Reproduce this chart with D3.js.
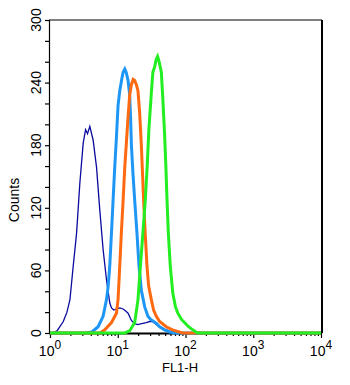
<!DOCTYPE html>
<html>
<head>
<meta charset="utf-8">
<script src="https://cdn.jsdelivr.net/npm/d3@7/dist/d3.min.js"></script>
<style>
  html, body { margin: 0; padding: 0; background: #fff; }
  svg { display: block; font-family: "Liberation Sans", Arial, Helvetica, sans-serif; }
</style>
</head>
<body>
<svg id="chart" width="350" height="385"></svg>
<script>
// FL1-H histogram overlay: isotype control plus three stained samples.
const xTickValues = [1, 10, 100, 1000, 10000];
const xTickExponents = ["0", "1", "2", "3", "4"];
const yTickValues = [0, 60, 120, 180, 240, 300];

// Isotype control (dark blue)
const isoFl = [1.00, 1.07, 1.27, 1.57, 1.78, 1.97, 2.20, 2.47, 2.76, 3.09, 3.35, 3.58, 3.87, 4.33, 4.86, 5.43, 6.08, 6.82, 7.62, 8.08, 8.73, 9.57, 10.7, 12.0, 13.1, 14.2, 15.9, 17.8, 19.7, 22.5, 26.4, 29.5, 32.7, 37.5, 41.5, 52, 62, 81, 10000];
const isoCounts = [0, 0, 2, 11, 20, 32, 64, 96, 144, 182, 195, 191, 198, 185, 159, 118, 80, 51, 29, 24, 22, 23, 24, 23, 21, 19, 12, 9, 8, 9, 10, 11, 11, 8, 6, 3, 1, 0, 0];

// Sample A (light blue)
const sampleAFl = [1, 3.27, 4.15, 5.13, 6.08, 6.82, 7.20, 7.62, 8.08, 8.53, 9.03, 9.57, 10.1, 10.7, 11.5, 12.0, 12.7, 13.3, 14.2, 15.0, 15.5, 15.9, 16.8, 17.8, 19.2, 20.6, 22.3, 25.0, 27.9, 30.6, 33.8, 37.5, 41.5, 49.1, 58.2, 68.9, 10000];
const sampleACounts = [0, 0, 1, 6, 16, 32, 44, 64, 96, 127, 159, 188, 218, 232, 244, 250, 253, 250, 242, 228, 205, 180, 152, 127, 96, 64, 41, 25, 16, 13, 11, 9, 6, 3, 1, 0, 0];

// Sample B (orange)
const sampleBFl = [1, 5.43, 6.44, 8.08, 9.57, 10.1, 10.7, 11.3, 12.0, 12.7, 13.4, 14.2, 15.0, 15.9, 16.9, 17.8, 18.8, 19.9, 21.1, 22.3, 23.3, 24.1, 25.4, 27.0, 28.6, 31.3, 33.8, 37.1, 41.5, 52.0, 64.4, 90.3, 10000];
const sampleBCounts = [0, 0, 3, 10, 19, 32, 64, 96, 127, 159, 182, 207, 228, 238, 243, 242, 238, 232, 210, 180, 150, 127, 96, 64, 45, 32, 22, 16, 11, 6, 3, 0, 0];

// Sample C (green)
const sampleCFl = [1, 12.7, 15.0, 17.8, 19.9, 21.6, 23.5, 25.5, 27.3, 28.8, 31.3, 33.0, 35.0, 36.8, 38.7, 40.8, 44.0, 46.4, 49.1, 51.3, 53.4, 55.8, 59.6, 65.0, 71.2, 77.1, 87.3, 96.6, 111, 128, 150, 10000];
const sampleCCounts = [0, 0, 2, 10, 32, 64, 96, 127, 162, 195, 230, 250, 255, 262, 265, 260, 250, 223, 191, 160, 127, 96, 64, 38, 25, 19, 13, 10, 6, 3, 0, 0];

const series = [
  { fl: isoFl, counts: isoCounts, color: "#0a0a9e", width: 1.3 },
  { fl: sampleAFl, counts: sampleACounts, color: "#1e96f5", width: 3 },
  { fl: sampleBFl, counts: sampleBCounts, color: "#ff6a10", width: 3 },
  { fl: sampleCFl, counts: sampleCCounts, color: "#22ee22", width: 3 }
];

const plotLeft = 49, plotRight = 322, plotTop = 20, plotBottom = 333;
const svg = d3.select("#chart");

const x = d3.scaleLog().domain([1, 10000]).range([50, 321]);
const y = d3.scaleLinear().domain([0, 300]).range([plotBottom, plotTop]);

// frame
svg.append("line").attr("x1", plotLeft).attr("x2", plotRight).attr("y1", plotTop).attr("y2", plotTop)
  .attr("stroke", "#000").attr("stroke-width", 1.2);
svg.append("line").attr("x1", plotRight).attr("x2", plotRight).attr("y1", plotTop).attr("y2", plotBottom)
  .attr("stroke", "#000").attr("stroke-width", 2);

// y axis with minor ticks every 20 counts
const yAxis = d3.axisLeft(y).tickValues(d3.range(0, 301, 20)).tickSize(4).tickFormat(() => "");
const gy = svg.append("g").attr("transform", `translate(${plotLeft},0)`).call(yAxis);
gy.select(".domain").attr("stroke-width", 1.2);
gy.selectAll(".tick line").attr("stroke-width", 1.2);

yTickValues.forEach(v => {
  svg.append("text")
    .attr("transform", `translate(41,${y(v)}) rotate(-90)`)
    .attr("text-anchor", "middle")
    .attr("font-size", 14)
    .attr("fill", "#000")
    .text(v);
});

// x axis: log decades with minor ticks
const minor = [];
for (let d = 1; d < 10000; d *= 10) for (let k = 2; k <= 9; k++) minor.push(d * k);
const gxMinor = svg.append("g").attr("transform", `translate(0,${plotBottom})`)
  .call(d3.axisBottom(x).tickValues(minor).tickSize(3).tickFormat(() => ""));
gxMinor.select(".domain").remove();
gxMinor.selectAll(".tick line").attr("stroke-width", 1.2);
const gx = svg.append("g").attr("transform", `translate(0,${plotBottom})`)
  .call(d3.axisBottom(x).tickValues(xTickValues).tickSize(5).tickFormat(() => ""));
gx.select(".domain").attr("d", `M${plotLeft},0.5H${plotRight}`).attr("stroke-width", 2);
gx.selectAll(".tick line").attr("stroke-width", 1.2);

xTickValues.forEach((v, i) => {
  const t = svg.append("text")
    .attr("x", x(v))
    .attr("y", 356)
    .attr("text-anchor", "middle")
    .attr("font-size", 14)
    .attr("fill", "#000");
  t.append("tspan").text("10");
  t.append("tspan").attr("dy", -7).attr("font-size", 12).text(xTickExponents[i]);
});

// histogram traces
const line = d3.line()
  .x(d => x(d[0]))
  .y(d => y(d[1]));

series.forEach(s => {
  const pts = s.fl.map((f, i) => [f, s.counts[i]]);
  svg.append("path")
    .datum(pts)
    .attr("d", line)
    .attr("fill", "none")
    .attr("stroke", s.color)
    .attr("stroke-width", s.width)
    .attr("stroke-linejoin", "miter");
});

// axis titles
svg.append("text")
  .attr("transform", "translate(19,200) rotate(-90)")
  .attr("text-anchor", "middle")
  .attr("font-size", 14)
  .attr("fill", "#000")
  .text("Counts");
svg.append("text")
  .attr("x", 180).attr("y", 372)
  .attr("text-anchor", "middle")
  .attr("font-size", 13)
  .attr("fill", "#000")
  .text("FL1-H");
</script>
</body>
</html>
